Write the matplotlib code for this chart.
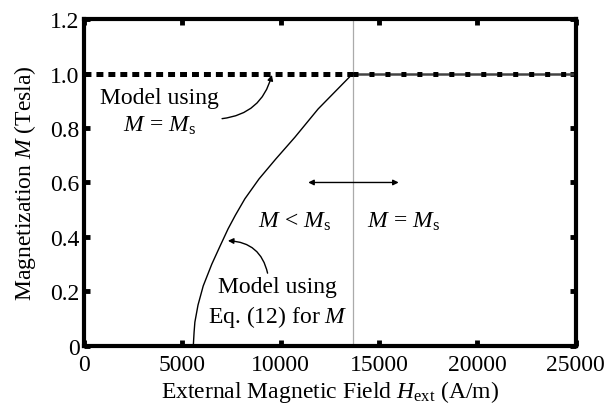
import matplotlib
matplotlib.use("Agg")
import matplotlib.pyplot as plt

plt.rcParams["font.family"] = "Liberation Serif"
plt.rcParams["mathtext.fontset"] = "custom"
plt.rcParams["mathtext.rm"] = "Liberation Serif"
plt.rcParams["mathtext.it"] = "Liberation Serif:italic"
plt.rcParams["lines.scale_dashes"] = False

# model using Eq. (12) for M
h_eq12 = [5560, 5600, 5640, 5800, 6064, 6500, 6930, 7330, 7700, 8181, 8900,
          9750, 10722, 11905, 13670]
m_eq12 = [0.0, 0.05, 0.087, 0.15, 0.22, 0.30, 0.368, 0.43, 0.48, 0.54,
          0.613, 0.686, 0.766, 0.870, 1.0]

# saturation
h_sat = 13670
m_sat = 1.0
h_max = 25000

x_ticks = [0, 5000, 10000, 15000, 20000, 25000]
y_ticks = [0, 0.2, 0.4, 0.6, 0.8, 1.0, 1.2]
y_tick_labels = ["0", "0.2", "0.4", "0.6", "0.8", "1.0", "1.2"]

fs = 17

fig = plt.figure(figsize=(6.08, 4.10), dpi=100)
ax = fig.add_axes([0.138, 0.154, 0.809, 0.797])

# vertical line at saturation field
ax.axvline(h_sat, color="#aaaaaa", lw=0.9, zorder=1)

# M = Ms model, left part dashed
ax.plot([0, h_sat], [m_sat, m_sat], color="black", lw=3.6, dashes=(5, 3.6), zorder=3)
# right part: saturated curve with square dashes on top
ax.plot([h_sat, h_max], [m_sat, m_sat], color="#444444", lw=1.8, zorder=2)
ax.plot([h_sat, h_max], [m_sat, m_sat], color="black", lw=3.6, dashes=(3.6, 7.9), zorder=3)

# Eq. (12) curve
ax.plot(h_eq12, m_eq12, color="black", lw=1.0, zorder=2)

ax.set_xlim(0, h_max)
ax.set_ylim(0, 1.2)
ax.set_xticks(x_ticks)
ax.set_yticks(y_ticks)
ax.set_yticklabels(y_tick_labels)

for s in ax.spines.values():
    s.set_linewidth(3)
ax.tick_params(direction="in", length=4, width=3.5, top=True, right=True,
               labelsize=fs)
ax.tick_params(axis="x", pad=6)
ax.tick_params(axis="y", pad=3)

ax.set_xlabel(r"External Magnetic Field $H_\mathrm{ext}$ (A/m)", fontsize=fs, labelpad=2)
ax.set_ylabel(r"Magnetization $M$ (Tesla)", fontsize=fs, labelpad=9)

# annotations
ax.annotate(r"Model using" + "\n" + r"$M\,=\,M_\mathrm{s}$", xy=(9553, 0.995),
            xytext=(3860, 0.86), fontsize=fs, ha="center", va="center",
            linespacing=1.3,
            arrowprops=dict(arrowstyle="-|>", color="black", lw=1.0,
                            shrinkA=0, shrinkB=0, mutation_scale=8,
                            relpos=(1.0, 0.35),
                            connectionstyle="arc3,rad=0.35"))

ax.annotate(r"Model using" + "\n" + r"Eq. (12) for $M$", xy=(7317, 0.386),
            xytext=(9860, 0.16), fontsize=fs, ha="center", va="center",
            linespacing=1.3,
            arrowprops=dict(arrowstyle="-|>", color="black", lw=1.0,
                            shrinkA=0, shrinkB=0, mutation_scale=8,
                            relpos=(0.43, 1.0),
                            connectionstyle="arc3,rad=0.4"))

ax.annotate("", xy=(11400, 0.6), xytext=(16000, 0.6),
            arrowprops=dict(arrowstyle="<|-|>", color="black", lw=1.0,
                            shrinkA=0, shrinkB=0, mutation_scale=8))

ax.text(10720, 0.46, r"$M\,<\,M_\mathrm{s}$", fontsize=fs, ha="center", va="center")
ax.text(16250, 0.46, r"$M\,=\,M_\mathrm{s}$", fontsize=fs, ha="center", va="center")

fig.savefig("out.png", dpi=100)
